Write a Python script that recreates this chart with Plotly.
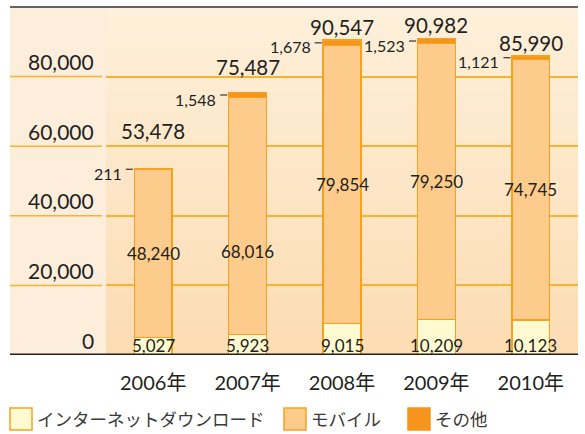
import plotly.graph_objects as go

# ---- data ----
categories = ["2006年", "2007年", "2008年", "2009年", "2010年"]
internet = [5027, 5923, 9015, 10209, 10123]
mobile = [48240, 68016, 79854, 79250, 74745]
other = [211, 1548, 1678, 1523, 1121]
totals = [53478, 75487, 90547, 90982, 85990]
series_names = ["インターネットダウンロード", "モバイル", "その他"]
y_ticks = [0, 20000, 40000, 60000, 80000]

# ---- styles ----
FONT = "Lato, 'Noto Sans CJK JP', sans-serif"
TXT = "#231F20"
GRID = "#F8B133"
EDGE = "#F6A21E"
colors = ["#FFFAD0", "#FDCB8B", "#F7941D"]
total_lift = [38, 25, 13, 13, 13]        # px above bar top
mobile_shift = [0, -35, 0, 0, 0]         # px offset of middle labels

W, H = 585, 434
ML, MR, MT, MB = 10, 7, 7, 79
PW, PH = W - ML - MR, H - MT - MB
px = lambda x: (x - ML) / PW
py = lambda y: (H - MB - y) / PH
X0 = px(106)
YMAX = 100000

xs = list(range(len(categories)))
fig = go.Figure()
for name, vals, col in zip(series_names, [internet, mobile, other], colors):
    fig.add_trace(go.Bar(x=xs, y=vals, name=name, width=0.4,
                         marker=dict(color=col, line=dict(color=EDGE, width=1.5)),
                         showlegend=False, hoverinfo="skip"))

shapes = []
# label column background
shapes.append(dict(type="rect", xref="paper", yref="paper", x0=0, x1=X0, y0=0, y1=1,
                   fillcolor="#FDEEDB", line_width=0, layer="below"))
# plot area vertical gradient
c_top = (0xFE, 0xF0, 0xDB)
c_bot = (0xFC, 0xDC, 0xB2)
N = 40
for k in range(N):
    t = (k + 0.5) / N
    c = tuple(round(c_bot[j] + (c_top[j] - c_bot[j]) * t) for j in range(3))
    shapes.append(dict(type="rect", xref="paper", yref="paper", x0=X0, x1=1,
                       y0=k / N, y1=(k + 1) / N + 0.002,
                       fillcolor="rgb(%d,%d,%d)" % c, line_width=0, layer="below"))
# gridlines in label column
for v in y_ticks[1:]:
    shapes.append(dict(type="line", xref="paper", yref="y", x0=0, x1=px(102), y0=v, y1=v,
                       line=dict(color=GRID, width=1.5), layer="below"))
# top border and base line
shapes.append(dict(type="line", xref="paper", yref="paper", x0=0, x1=1, y0=1, y1=1,
                   line=dict(color="#333333", width=1.5), layer="above"))
shapes.append(dict(type="line", xref="paper", yref="y", x0=0, x1=1, y0=0, y1=0,
                   line=dict(color=TXT, width=3), layer="above"))

ann = []
# y tick labels
for v in y_ticks:
    ann.append(dict(xref="paper", yref="y", x=px(96), y=v, text=f"{v:,}", showarrow=False,
                    xanchor="right", yanchor="middle", yshift=15,
                    font=dict(family=FONT, size=21, color=TXT)))
for i in xs:
    # totals
    ann.append(dict(xref="x", yref="y", x=i, y=totals[i], text=f"{totals[i]:,}", showarrow=False,
                    xanchor="center", yanchor="middle", yshift=total_lift[i],
                    font=dict(family=FONT, size=20.5, color=TXT)))
    # mobile
    ann.append(dict(xref="x", yref="y", x=i, y=internet[i] + mobile[i] / 2, text=f"{mobile[i]:,}",
                    showarrow=False, xanchor="center", yanchor="middle", yshift=mobile_shift[i],
                    font=dict(family=FONT, size=17, color=TXT)))
    # internet
    ann.append(dict(xref="x", yref="y", x=i, y=0, text=f"{internet[i]:,}", showarrow=False,
                    xanchor="center", yanchor="middle", yshift=10,
                    font=dict(family=FONT, size=17, color=TXT)))
    # other with leader dash
    mid = internet[i] + mobile[i] + other[i] / 2
    shapes.append(dict(type="line", xref="x", yref="y", x0=i - 0.29, x1=i - 0.215, y0=mid, y1=mid,
                       line=dict(color="#333333", width=1.2), layer="above"))
    ann.append(dict(xref="x", yref="y", x=i - 0.29, y=mid, text=f"{other[i]:,}", showarrow=False,
                    xanchor="right", yanchor="middle", xshift=-2, yshift=-4,
                    font=dict(family=FONT, size=16, color=TXT)))

# custom legend
leg_sq = [(10, 32), (284, 306), (408, 430)]
for (a, b), name, col in zip(leg_sq, series_names, colors):
    shapes.append(dict(type="rect", xref="paper", yref="paper", x0=px(a), x1=px(b),
                       y0=py(430), y1=py(408), fillcolor=col,
                       line=dict(color=EDGE if col != colors[2] else col, width=1.5)))
    ann.append(dict(xref="paper", yref="paper", x=px(b + 3), y=py(419), text=name, showarrow=False,
                    xanchor="left", yanchor="middle",
                    font=dict(family=FONT, size=17.5, color="#3A3A3A")))

fig.update_layout(
    width=W, height=H, margin=dict(l=ML, r=MR, t=MT, b=MB),
    paper_bgcolor="white", plot_bgcolor="rgba(0,0,0,0)",
    barmode="stack", bargap=0.6,
    shapes=shapes, annotations=ann,
    xaxis=dict(domain=[X0, 1], range=[-0.5, len(xs) - 0.5], tickvals=xs, ticktext=categories,
               showgrid=False, zeroline=False, showline=False, ticks="",
               ticklabelstandoff=14,
               tickfont=dict(family=FONT, size=20, color=TXT)),
    yaxis=dict(range=[0, YMAX], tickvals=y_ticks[1:], showticklabels=False,
               showgrid=True, gridcolor=GRID, gridwidth=1.5, zeroline=False, showline=False),
)
fig.write_html("out.html", config={"displayModeBar": False},
               post_script="document.body.style.margin='0';")
